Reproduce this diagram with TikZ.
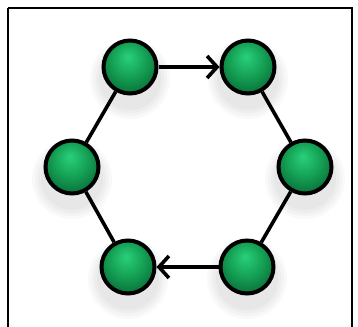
\documentclass[tikz,border=0pt]{standalone}
\usetikzlibrary{arrows.meta}
\definecolor{gA}{HTML}{29D07B}
\definecolor{gB}{HTML}{16A457}
\definecolor{gC}{HTML}{0B7A3E}
\pgfdeclareradialshading{greenball}{\pgfpoint{-2bp}{10bp}}{color(0bp)=(gA); color(15bp)=(gB); color(27bp)=(gC); color(50bp)=(gC)}
\tikzset{
  ballnode/.style={circle, draw=black, line width=4pt, minimum size=53pt, inner sep=0pt, shading=greenball},
  link/.style={line width=3.6pt, draw=black},
  arrowlink/.style={link, -{Straight Barb[length=10pt,width=22pt,line width=3.6pt]}},
  frame/.style={draw=black, line width=2.2pt}
}
\begin{document}
\begin{tikzpicture}[x=1pt,y=-1pt]
\useasboundingbox (0,0) rectangle (358,326);
\fill[white] (0,0) rectangle (358,326);
% soft shadows
\foreach \cx/\cy in {130/67, 248/67, 72/167, 305/167, 128/267, 247/267}{
  \foreach \r in {40,37,34,31}{
    \fill[black, opacity=0.025] (\cx,\cy+12) circle (\r);
  }
}
\draw[frame] (8,8) -- (352,8) -- (352,340) (8,8) -- (8,340);
\node[ballnode] (tl) at (130,67) {};
\node[ballnode] (tr) at (248,67) {};
\node[ballnode] (l) at (72,167) {};
\node[ballnode] (r) at (305,167) {};
\node[ballnode] (bl) at (128,267) {};
\node[ballnode] (br) at (247,267) {};
\draw[arrowlink] (tl) -- (tr);
\draw[arrowlink] (br) -- (bl);
\draw[link] (tl) -- (l);
\draw[link] (l) -- (bl);
\draw[link] (tr) -- (r);
\draw[link] (r) -- (br);
\end{tikzpicture}
\end{document}
